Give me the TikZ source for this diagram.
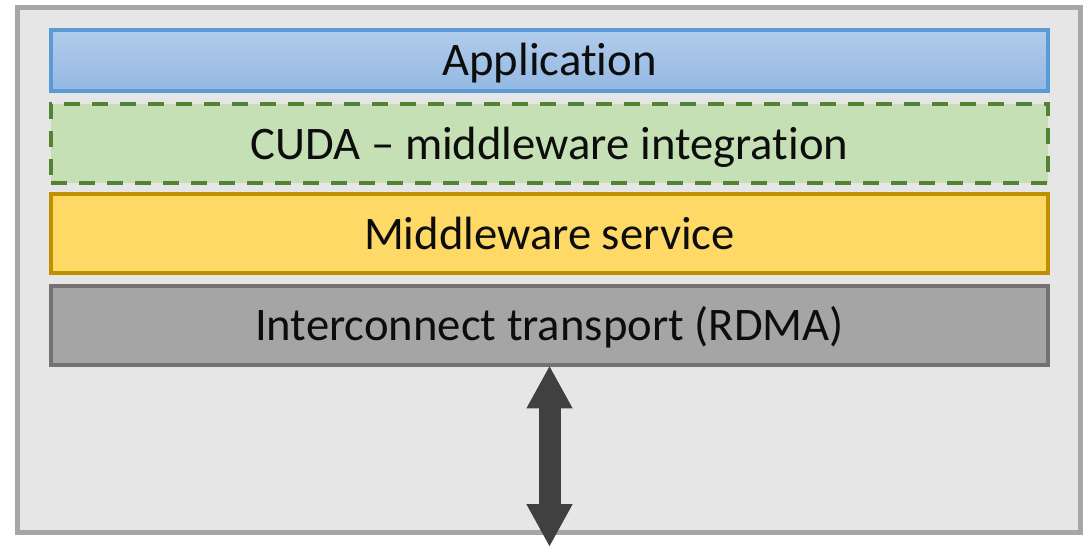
\documentclass[tikz,border=0pt]{standalone}
\usepackage{fontspec}
\setmainfont{Carlito}[Ligatures=NoCommon]
\usetikzlibrary{arrows.meta}

\definecolor{outerfill}{RGB}{230,230,230}
\definecolor{outerline}{RGB}{166,166,166}
\definecolor{apptop}{RGB}{178,204,235}
\definecolor{appbot}{RGB}{147,184,227}
\definecolor{appline}{RGB}{91,155,213}
\definecolor{cudafill}{RGB}{197,224,180}
\definecolor{cudaline}{RGB}{84,130,53}
\definecolor{mwfill}{RGB}{255,217,102}
\definecolor{mwline}{RGB}{191,144,0}
\definecolor{icfill}{RGB}{165,165,165}
\definecolor{icline}{RGB}{118,113,113}
\definecolor{arrowgray}{RGB}{64,64,64}
\definecolor{textgray}{RGB}{13,13,13}

\tikzset{
  layer/.style={rectangle, inner sep=0pt, line width=3pt, minimum width=747.75pt,
    text=textgray, font=\fontsize{35}{42}\selectfont, text height=27pt, text depth=4pt},
}

\begin{document}
\begin{tikzpicture}[x=0.75pt,y=0.75pt,yscale=-1,xscale=1]
\useasboundingbox (0,0) rectangle (1091,547);

%Shape: Outer frame
\draw [draw=outerline, fill=outerfill, line width=3.75pt] (17.5,7.5) rectangle (1080.5,532.5);

% Layer nodes
\node [layer, draw=appline, top color=apptop, bottom color=appbot, minimum height=46.1pt] (app) at (549.5,60.25) {Application};
\node [layer, draw=cudaline, fill=cudafill, dash pattern=on 12pt off 9pt, minimum height=59.6pt] (cuda) at (549.5,143.75) {CUDA -- middleware integration};
\node [layer, draw=mwline, fill=mwfill, minimum height=58.9pt] (mw) at (549.5,233.75) {Middleware service};
\node [layer, draw=icline, fill=icfill, minimum height=59.6pt] (ic) at (549.5,325.25) {Interconnect transport (RDMA)};

% Double arrow
\coordinate (net) at (549.5,547);
\draw [arrowgray, line width=16.5pt, {Triangle[width=32.25pt,length=32.25pt]}-{Triangle[width=32.25pt,length=32.25pt]}] (ic.south) ++(0,-1.5) -- (net);

\end{tikzpicture}
\end{document}
